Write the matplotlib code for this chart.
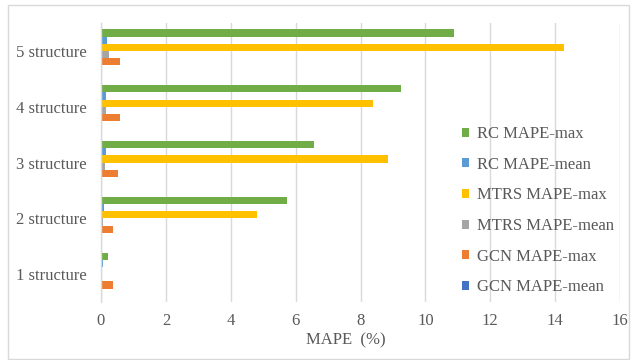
import numpy as np
import matplotlib
matplotlib.use("Agg")
import matplotlib.pyplot as plt
from matplotlib.patches import Rectangle

categories = ["1 structure", "2 structure", "3 structure", "4 structure", "5 structure"]
rc_max = [0.23, 5.74, 6.58, 9.25, 10.88]
rc_mean = [0.05, 0.09, 0.16, 0.14, 0.17]
mtrs_max = [0.0, 4.80, 8.84, 8.38, 14.26]
mtrs_mean = [0.0, 0.05, 0.12, 0.14, 0.25]
gcn_max = [0.38, 0.36, 0.52, 0.58, 0.59]
gcn_mean = [0.01, 0.02, 0.02, 0.02, 0.02]

series = [
    ("RC MAPE-max", rc_max, "#70AD47"),
    ("RC MAPE-mean", rc_mean, "#5B9BD5"),
    ("MTRS MAPE-max", mtrs_max, "#FFC000"),
    ("MTRS MAPE-mean", mtrs_mean, "#A5A5A5"),
    ("GCN MAPE-max", gcn_max, "#ED7D31"),
    ("GCN MAPE-mean", gcn_mean, "#4472C4"),
]

TXT = "#595959"
GRID = "#D9D9D9"
FS = 12
plt.rcParams["font.family"] = ["Liberation Serif", "DejaVu Serif"]

fig = plt.figure(figsize=(6.34, 3.6), dpi=100)
ax = fig.add_axes([0.1593, 0.161, 0.8187, 0.775])

y = np.arange(len(categories))
h = 0.129
for i, (name, vals, color) in enumerate(series):
    ax.barh(y + (2.5 - i) * h, vals, height=h, color=color, label=name, zorder=3)

ax.set_xlim(0, 16)
ax.set_ylim(-0.5, 4.5)
ax.set_xticks(np.arange(0, 17, 2))
ax.set_yticks(y)
ax.set_yticklabels(categories)
ax.tick_params(axis="both", length=0, labelsize=FS, colors=TXT)
ax.tick_params(axis="x", pad=8)
ax.tick_params(axis="y", pad=10)
ax.xaxis.grid(True, color=GRID, linewidth=1, zorder=0)
for s in ["top", "right", "bottom"]:
    ax.spines[s].set_visible(False)
ax.spines["left"].set_color(GRID)
ax.spines["left"].set_linewidth(1)
ax.spines["left"].set_zorder(4)
ax.set_xlabel("MAPE  (%)", fontsize=FS, color=TXT)
ax.xaxis.set_label_coords(0.472, -0.108)

ax.legend(loc="upper left", bbox_to_anchor=(447 / 634, 1 - 111 / 360),
          bbox_transform=fig.transFigure, frameon=False,
          fontsize=FS, labelcolor=TXT, handlelength=0.45, handleheight=0.45,
          handletextpad=0.45, labelspacing=0.88)

# outer chart border
fig.patches.append(Rectangle((8 / 634, 1 / 360), 621 / 634, 354 / 360,
                             transform=fig.transFigure, fill=False,
                             edgecolor=GRID, linewidth=1))

fig.savefig("out.png", dpi=100, facecolor="white")
